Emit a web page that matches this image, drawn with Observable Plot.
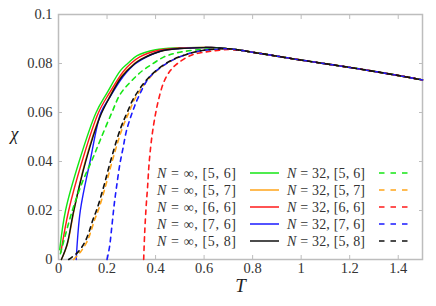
<!DOCTYPE html>
<html><head><meta charset="utf-8">
<script src="https://cdn.jsdelivr.net/npm/d3@7"></script>
<script src="https://cdn.jsdelivr.net/npm/@observablehq/plot@0.6"></script>
<style>
html,body{margin:0;padding:0;background:#fff;}
#wrap{position:relative;width:436px;height:306px;}
#legend{position:absolute;left:0;top:0;pointer-events:none;}
</style>
</head><body>
<div id="wrap"></div>
<script>
// ---- data ----
const seriesNames = ["[5, 6]", "[5, 7]", "[6, 6]", "[7, 6]", "[5, 8]"];
const seriesColors = ["#14e614", "#ffa51a", "#ff1a1a", "#1a1aff", "#111111"];
const xTicks = [0, 0.2, 0.4, 0.6, 0.8, 1.0, 1.2, 1.4];
const xTickLabels = ["0", "0.2", "0.4", "0.6", "0.8", "1", "1.2", "1.4"];
const yTicks = [0, 0.02, 0.04, 0.06, 0.08, 0.1];
const yTickLabels = ["0", "0.02", "0.04", "0.06", "0.08", "0.1"];

// common high-temperature part
const tailT   = [0.75, 0.8, 0.9, 1.0, 1.1, 1.2, 1.3, 1.4, 1.5];
const tailChi = [0.0854, 0.0846, 0.0830, 0.0814, 0.0799, 0.0784, 0.0768, 0.0751, 0.0733];

// N = infinity (solid)
const infT_56   = [0.005, 0.029, 0.085, 0.155, 0.2, 0.255, 0.285, 0.324, 0.4, 0.5, 0.6, 0.65, 0.7];
const infChi_56 = [0.004, 0.02, 0.04, 0.06, 0.068, 0.0771, 0.08, 0.0832, 0.0856, 0.0864, 0.0866, 0.0865, 0.0860];
const infT_57   = [0.012, 0.036, 0.064, 0.11, 0.168, 0.205, 0.258, 0.312, 0.34, 0.42, 0.5, 0.6, 0.65, 0.7];
const infChi_57 = [0, 0.006, 0.02, 0.04, 0.058, 0.0655, 0.0747, 0.08, 0.0818, 0.085, 0.0861, 0.0865, 0.0865, 0.0860];
const infT_66   = [0.01, 0.042, 0.097, 0.165, 0.21, 0.265, 0.298, 0.335, 0.41, 0.5, 0.6, 0.65, 0.7];
const infChi_66 = [0.003, 0.02, 0.04, 0.06, 0.068, 0.0765, 0.08, 0.0827, 0.0853, 0.0863, 0.0866, 0.0865, 0.0860];
const infT_76   = [0.073, 0.09, 0.13, 0.175, 0.21, 0.265, 0.318, 0.42, 0.5, 0.6, 0.65, 0.7];
const infChi_76 = [0, 0.02, 0.04, 0.06, 0.066, 0.0745, 0.08, 0.085, 0.0861, 0.0865, 0.0865, 0.0860];
const infT_58   = [0.012, 0.035, 0.063, 0.112, 0.17, 0.207, 0.26, 0.315, 0.34, 0.42, 0.5, 0.6, 0.65, 0.7];
const infChi_58 = [0, 0.006, 0.02, 0.04, 0.058, 0.0655, 0.0745, 0.08, 0.0817, 0.085, 0.0861, 0.0865, 0.0865, 0.0860];

// N = 32 (dashed)
const n32T_56   = [0.008, 0.057, 0.1, 0.14, 0.173, 0.22, 0.255, 0.3, 0.345, 0.39, 0.433, 0.489, 0.6, 0.7];
const n32Chi_56 = [0.0024, 0.02, 0.032, 0.041, 0.049, 0.06, 0.0676, 0.0728, 0.077, 0.08, 0.0826, 0.0844, 0.0858, 0.0860];
const n32T_57   = [0.062, 0.09, 0.116, 0.132, 0.148, 0.166, 0.194, 0.221, 0.262, 0.29, 0.318, 0.378, 0.45, 0.53, 0.6, 0.7];
const n32Chi_57 = [0, 0.003, 0.007, 0.011, 0.016, 0.0207, 0.03, 0.04, 0.0533, 0.06, 0.0662, 0.0744, 0.0803, 0.0838, 0.0854, 0.0860];
const n32T_66   = [0.351, 0.355, 0.361, 0.367, 0.374, 0.386, 0.4, 0.413, 0.434, 0.46, 0.489, 0.55, 0.62, 0.7];
const n32Chi_66 = [0, 0.0105, 0.0214, 0.0295, 0.04, 0.051, 0.0595, 0.0655, 0.0724, 0.077, 0.0799, 0.0835, 0.0849, 0.0857];
const n32T_76   = [0.2, 0.21, 0.221, 0.23, 0.239, 0.253, 0.266, 0.28, 0.304, 0.328, 0.375, 0.45, 0.53, 0.6, 0.7];
const n32Chi_76 = [0, 0.005, 0.0146, 0.0228, 0.0295, 0.039, 0.0455, 0.0525, 0.06, 0.066, 0.0744, 0.0803, 0.0838, 0.0854, 0.0860];
const n32T_58   = [0.042, 0.08, 0.108, 0.125, 0.141, 0.159, 0.187, 0.214, 0.255, 0.283, 0.312, 0.373, 0.447, 0.53, 0.6, 0.7];
const n32Chi_58 = [0, 0.003, 0.007, 0.011, 0.016, 0.0207, 0.03, 0.04, 0.0533, 0.06, 0.0662, 0.0744, 0.0803, 0.0838, 0.0854, 0.0860];

const infSeries = [[infT_56, infChi_56], [infT_57, infChi_57], [infT_66, infChi_66], [infT_76, infChi_76], [infT_58, infChi_58]];
const n32Series = [[n32T_56, n32Chi_56], [n32T_57, n32Chi_57], [n32T_66, n32Chi_66], [n32T_76, n32Chi_76], [n32T_58, n32Chi_58]];

function rows([ts, cs]) {
  const r = ts.map((t, i) => ({T: t, chi: cs[i]}));
  tailT.forEach((t, i) => r.push({T: t, chi: tailChi[i]}));
  return r;
}

const FONT = "Liberation Serif, DejaVu Serif, serif";
const gray = "#bdbdbd";
const marks = [Plot.frame({stroke: gray, strokeWidth: 1.5})];
marks.push(Plot.axisX(xTicks, {anchor: "bottom", tickSize: -4, fill: "none", stroke: gray, label: null}));
marks.push(Plot.axisX(xTicks, {anchor: "top", tickSize: -4, fill: "none", stroke: gray, label: null}));
marks.push(Plot.axisY(yTicks, {anchor: "left", tickSize: -4, fill: "none", stroke: gray, label: null}));
marks.push(Plot.axisY(yTicks, {anchor: "right", tickSize: -4, fill: "none", stroke: gray, label: null}));
marks.push(Plot.axisX(xTicks, {anchor: "bottom", tickSize: 0, tickPadding: 3, fontSize: 14.5, fill: "#333",
  tickFormat: d => xTickLabels[xTicks.indexOf(d)], label: null}));
marks.push(Plot.axisY(yTicks, {anchor: "left", tickSize: 0, tickPadding: 6, fontSize: 14.5, fill: "#333",
  tickFormat: d => yTickLabels[yTicks.indexOf(d)], label: null}));
marks.push(Plot.text(["T"], {frameAnchor: "bottom", dy: 32, text: d => d, fontSize: 19, fontStyle: "italic", fill: "#222"}));
marks.push(Plot.text(["χ"], {frameAnchor: "left", dx: -48, dy: -3, text: d => d, fontSize: 18, fontStyle: "italic", fill: "#222"}));

infSeries.forEach((s, i) => {
  marks.push(Plot.line(rows(s), {x: "T", y: "chi", stroke: seriesColors[i], strokeWidth: 1.4, curve: "catmull-rom"}));
});
n32Series.forEach((s, i) => {
  marks.push(Plot.line(rows(s), {x: "T", y: "chi", stroke: seriesColors[i], strokeWidth: 1.6, strokeDasharray: "4.5,4.5", curve: "catmull-rom"}));
});

const chart = Plot.plot({
  width: 436, height: 306,
  marginLeft: 58, marginRight: 14, marginTop: 14, marginBottom: 47,
  x: {domain: [0, 1.5]},
  y: {domain: [0, 0.1]},
  style: {background: "#fff"},
  marks
});
chart.setAttribute("font-family", FONT);
chart.querySelectorAll("g, text").forEach(el => {
  el.setAttribute("font-family", FONT);
  el.style.setProperty("font-family", FONT, "important");
});
const wrap = document.getElementById("wrap");
wrap.appendChild(chart);

// ---- legend (overlay) ----
const NS = "http://www.w3.org/2000/svg";
const lg = document.createElementNS(NS, "svg");
lg.setAttribute("id", "legend");
lg.setAttribute("width", 436); lg.setAttribute("height", 306);
lg.setAttribute("font-family", FONT);
seriesNames.forEach((name, i) => {
  const y = 173 + i * 17;
  const mk = (tag, attrs) => { const e = document.createElementNS(NS, tag); for (const k in attrs) e.setAttribute(k, attrs[k]); lg.appendChild(e); return e; };
  const t1 = mk("text", {x: 157, y: y, "dominant-baseline": "central", "font-size": 14, fill: "#333", textLength: 79, lengthAdjust: "spacing"});
  t1.innerHTML = '<tspan font-style="italic">N</tspan> = ∞, ' + name;
  mk("line", {x1: 250, x2: 279, y1: y, y2: y, stroke: seriesColors[i], "stroke-width": 1.5});
  const t2 = mk("text", {x: 287, y: y, "dominant-baseline": "central", "font-size": 14, fill: "#333", textLength: 78, lengthAdjust: "spacing"});
  t2.innerHTML = '<tspan font-style="italic">N</tspan> = 32, ' + name;
  mk("line", {x1: 379, x2: 409, y1: y, y2: y, stroke: seriesColors[i], "stroke-width": 1.5, "stroke-dasharray": "5.5,6"});
});
wrap.appendChild(lg);
</script>
</body></html>
